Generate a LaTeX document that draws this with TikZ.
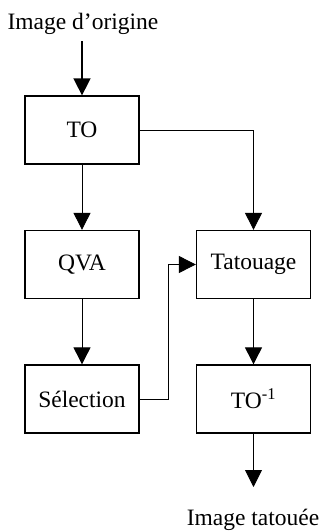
\documentclass[tikz,border=0pt]{standalone}
\usepackage{fontspec}
\setmainfont{Liberation Serif}
\usetikzlibrary{arrows.meta}
\begin{document}
\begin{tikzpicture}[x=1pt,y=-1pt,
  box/.style={draw,line width=1.3pt,minimum width=114pt,minimum height=68pt,inner sep=0pt,font=\fontsize{23.5}{26}\selectfont},
  lbl/.style={font=\fontsize{23.5}{26}\selectfont,inner sep=0pt},
  conn/.style={line width=0.9pt,-{Triangle[width=17pt,length=17pt]}}]
\useasboundingbox (0,0) rectangle (320,531);
\node[lbl] (in) at (83,24) {Image d’origine};
\node[box] (to) at (82,130) {TO};
\node[box] (qva) at (82,264.5) {QVA};
\node[box] (sel) at (82,399) {Sélection};
\node[box] (tat) at (253.5,264.5) {Tatouage};
\node[box] (toi) at (253.5,399) {TO\textsuperscript{-1}};
\node[lbl] (out) at (253,520) {Image tatouée};
\coordinate (inA) at (82,41);
\coordinate (outA) at (253.5,487);
\draw[conn,line width=1.6pt] (inA) -- (to.north);
\draw[conn] (to.south) -- (qva.north);
\draw[conn] (qva.south) -- (sel.north);
\draw[conn] (to.east) -| (tat.north);
\draw[conn] (sel.east) -- ++(29,0) |- (tat.west);
\draw[conn] (tat.south) -- (toi.north);
\draw[conn] (toi.south) -- (outA);
\end{tikzpicture}
\end{document}
